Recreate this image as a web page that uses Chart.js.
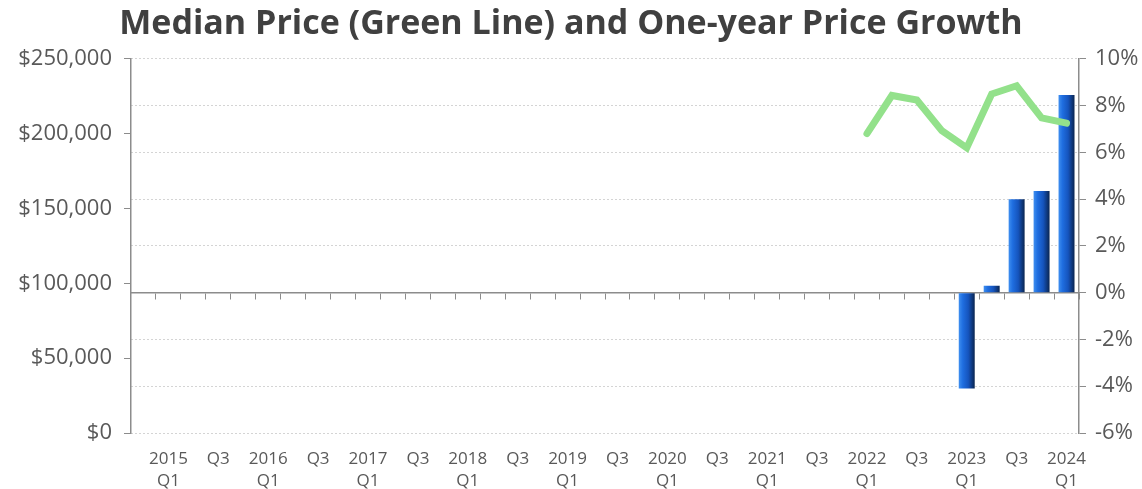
<!DOCTYPE html>
<html>
<head>
<meta charset="utf-8">
<script src="https://cdn.jsdelivr.net/npm/chart.js@4.4.1/dist/chart.umd.min.js"></script>
<style>
  html, body { margin: 0; padding: 0; background: #fff; }
  #wrap { width: 1142px; height: 489px; }
</style>
</head>
<body>
<div id="wrap"><canvas id="myChart"></canvas></div>
<script>
  // quarters, first slot is an empty spacer category
  const categories = [
    '',
    '2015 Q1', '2015 Q2', '2015 Q3', '2015 Q4',
    '2016 Q1', '2016 Q2', '2016 Q3', '2016 Q4',
    '2017 Q1', '2017 Q2', '2017 Q3', '2017 Q4',
    '2018 Q1', '2018 Q2', '2018 Q3', '2018 Q4',
    '2019 Q1', '2019 Q2', '2019 Q3', '2019 Q4',
    '2020 Q1', '2020 Q2', '2020 Q3', '2020 Q4',
    '2021 Q1', '2021 Q2', '2021 Q3', '2021 Q4',
    '2022 Q1', '2022 Q2', '2022 Q3', '2022 Q4',
    '2023 Q1', '2023 Q2', '2023 Q3', '2023 Q4',
    '2024 Q1'
  ];

  const lastQuarters = ['2022 Q1', '2022 Q2', '2022 Q3', '2022 Q4', '2023 Q1', '2023 Q2', '2023 Q3', '2023 Q4', '2024 Q1'];
  const medianPrice = [200000, 225500, 222500, 202000, 190500, 226500, 232000, 210500, 207000];

  const growthQuarters = ['2023 Q1', '2023 Q2', '2023 Q3', '2023 Q4', '2024 Q1'];
  const priceGrowth = [-4.1, 0.3, 4.0, 4.35, 8.45];

  const priceTicks = [0, 50000, 100000, 150000, 200000, 250000];
  const growthTicks = [-6, -4, -2, 0, 2, 4, 6, 8, 10];

  const priceData = categories.map(c => {
    const i = lastQuarters.indexOf(c);
    return i < 0 ? null : medianPrice[i];
  });
  const growthData = categories.map(c => {
    const i = growthQuarters.indexOf(c);
    return i < 0 ? null : priceGrowth[i];
  });

  const fontFam = "'Open Sans', 'DejaVu Sans', sans-serif";
  const axisGrey = '#8c8c8c';
  const textGrey = '#595959';

  function barFill(c) {
    const chart = c.chart;
    if (c.type !== 'data' || !chart.chartArea) return '#1a5fcc';
    const xs = chart.scales.x;
    const cx = xs.getPixelForValue(c.dataIndex);
    const g = chart.ctx.createLinearGradient(cx - 8, 0, cx + 8, 0);
    g.addColorStop(0, '#3f8ff0');
    g.addColorStop(0.25, '#1f6ee0');
    g.addColorStop(0.6, '#1554bd');
    g.addColorStop(1, '#0a2550');
    return g;
  }

  const ctx = document.getElementById('myChart');

  new Chart(ctx, {
    data: {
      labels: categories,
      datasets: [
        {
          type: 'line',
          label: 'Median Price',
          data: priceData,
          yAxisID: 'y',
          xAxisID: 'x',
          borderColor: '#93e18b',
          borderWidth: 7,
          borderCapStyle: 'round',
          borderJoinStyle: 'miter',
          pointRadius: 0,
          tension: 0,
          order: 0
        },
        {
          type: 'bar',
          label: 'One-year Price Growth',
          data: growthData,
          yAxisID: 'y1',
          xAxisID: 'x',
          backgroundColor: barFill,
          borderWidth: 0,
          categoryPercentage: 1,
          barPercentage: 0.64,
          order: 1
        }
      ]
    },
    options: {
      responsive: true,
      maintainAspectRatio: false,
      animation: false,
      layout: { padding: { left: 0, right: 0, top: 0, bottom: 0 } },
      plugins: {
        legend: { display: false },
        tooltip: { enabled: false },
        title: {
          display: true,
          text: 'Median Price (Green Line) and One-year Price Growth',
          color: '#404040',
          font: { family: fontFam, size: 34, weight: 'bold' },
          padding: { top: 4, bottom: 14 }
        }
      },
      scales: {
        x: {
          type: 'category',
          position: 'bottom',
          offset: true,
          grid: { display: false },
          border: { display: false },
          ticks: {
            autoSkip: false,
            maxRotation: 0,
            padding: 7,
            color: textGrey,
            font: { family: fontFam, size: 17, lineHeight: 1.3 },
            callback: function (v, i) {
              const lab = categories[i];
              if (!lab) return '';
              const parts = lab.split(' ');
              if (parts[1] === 'Q1') return [parts[0], 'Q1'];
              if (parts[1] === 'Q3') return 'Q3';
              return '';
            }
          },
          afterFit: s => { s.height = 56; }
        },
        x2: {
          type: 'category',
          position: { y1: 0 },
          offset: true,
          ticks: { display: false },
          grid: {
            offset: true,
            drawOnChartArea: false,
            drawTicks: true,
            tickLength: 6,
            color: axisGrey,
            lineWidth: 1
          },
          border: { display: true, color: axisGrey, width: 1.5 }
        },
        y: {
          position: 'left',
          min: 0,
          max: 250000,
          afterBuildTicks: s => { s.ticks = priceTicks.map(v => ({ value: v })); },
          grid: { drawOnChartArea: false, tickLength: 7, color: axisGrey },
          border: { display: true, color: axisGrey, width: 1.5 },
          ticks: {
            padding: 12,
            color: textGrey,
            font: { family: fontFam, size: 22 },
            callback: v => '$' + Number(v).toLocaleString('en-US')
          },
          afterFit: s => { s.width = 131; }
        },
        y1: {
          position: 'right',
          min: -6,
          max: 10,
          afterBuildTicks: s => { s.ticks = growthTicks.map(v => ({ value: v })); },
          grid: {
            drawOnChartArea: true,
            color: c => (c.tick && c.tick.value === 0 ? 'rgba(0,0,0,0)' : '#d4d4d4'),
            tickColor: axisGrey,
            tickBorderDash: [],
            tickLength: 7
          },
          border: { display: true, color: axisGrey, width: 1.5, dash: [2, 2] },
          ticks: {
            padding: 9,
            color: textGrey,
            font: { family: fontFam, size: 22 },
            callback: v => v + '%'
          },
          afterFit: s => { s.width = 63; }
        }
      }
    }
  });
</script>
</body>
</html>
